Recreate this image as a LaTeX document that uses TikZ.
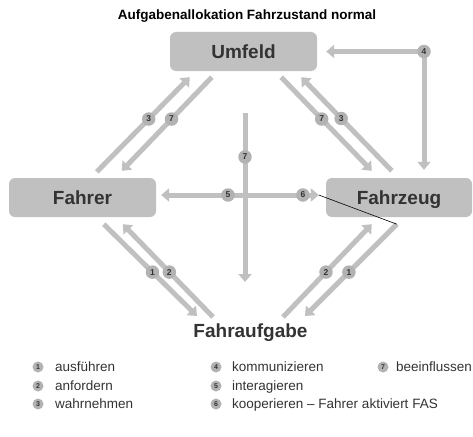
\documentclass[tikz,border=0pt]{standalone}
\usepackage{fontspec}
\setmainfont{Liberation Sans}
\usetikzlibrary{arrows.meta,calc}
\definecolor{linegray}{HTML}{C0C0C0}
\definecolor{dotgray}{HTML}{B2B2B2}
\definecolor{txtdark}{HTML}{333333}

\begin{document}
\begin{tikzpicture}[x=1pt,y=-1pt,
  >={Triangle[length=8pt,width=13pt]},
  box/.style={fill=linegray, rounded corners=6pt, minimum width=147pt,
    minimum height=39pt, inner sep=0pt, text height=13.6pt, text depth=0pt,
    font=\fontsize{19}{22}\selectfont\bfseries, text=txtdark},
  flow/.style={draw=linegray, line width=5pt},
  tag/.style={circle, fill=dotgray, inner sep=0pt, minimum size=13.5pt,
    font=\fontsize{8.5}{8.5}\selectfont\bfseries, text=txtdark},
  key/.style={circle, fill=dotgray, inner sep=0pt, minimum size=11pt,
    font=\fontsize{7}{7}\selectfont\bfseries, text=txtdark},
  keytext/.style={anchor=base west, inner sep=0pt,
    font=\fontsize{13.5}{16}\selectfont, text=txtdark}
]
\useasboundingbox (0,0) rectangle (473,436);

% title
\node[anchor=base, inner sep=0pt, font=\fontsize{13.5}{15}\selectfont\bfseries]
  (title) at (247,20) {Aufgabenallokation Fahrzustand normal};

% actors
\node[box] (umfeld) at (243.5,51.5) {Umfeld};
\node[box] (fahrer) at (82.5,197.5) {Fahrer};
\node[box, minimum width=146pt] (fahrzeug) at (399,197.5) {Fahrzeug};
\node[anchor=base, inner sep=0pt, font=\fontsize{19}{22}\selectfont\bfseries,
  text=txtdark] (aufgabe) at (250.5,337) {Fahraufgabe};

% Umfeld <-> Fahrer
\draw[flow,->] ($(fahrer.north west)+(88,-6)$) -- node[tag,pos=.558]{3}
  ($(umfeld.south west)+(20,6)$);
\draw[flow,->] ($(umfeld.south west)+(42,6)$) -- node[tag,pos=.447]{7}
  ($(fahrer.north west)+(113,-7)$);

% Umfeld <-> Fahrzeug
\draw[flow,->] ($(umfeld.south east)+(-36,6)$) -- node[tag,pos=.447]{7}
  ($(fahrzeug.north west)+(46,-7)$);
\draw[flow,->] ($(fahrzeug.north west)+(66,-7)$) -- node[tag,pos=.559]{3}
  ($(umfeld.south east)+(-16,6)$);

% communication Fahrzeug <-> Umfeld
\draw[flow,<->] ($(fahrzeug.north)+(25,-8)$) |- node[tag,pos=.5]{4}
  ($(umfeld.east)+(9,0)$);

% Fahrer <-> Fahrzeug
\draw[flow,<->] ($(fahrer.east)+(5,-2.5)$) -- node[tag,pos=.424]{5}
  node[tag,pos=.899]{6} ($(fahrzeug.west)+(-7,-2.5)$) coordinate (tip6);

% influence on the driving task
\coordinate (infl) at (245,113);
\draw[flow,->] (infl) -- node[tag,pos=.26]{7} ($(aufgabe.base)+(-5.5,-55)$);

% Fahrer <-> Fahraufgabe
\draw[flow,->] ($(fahrer.south west)+(95,7)$) -- node[tag,pos=.522]{1}
  ($(aufgabe.base)+(-53.5,-21)$);
\draw[flow,->] ($(aufgabe.base)+(-37.5,-20)$) -- node[tag,pos=.484]{2}
  ($(fahrer.south west)+(114,7)$);

% Fahrzeug <-> Fahraufgabe
\draw[flow,->] ($(aufgabe.base)+(32.5,-20)$) -- node[tag,pos=.484]{2}
  ($(fahrzeug.south west)+(46,7)$);
\draw[flow,->] ($(fahrzeug.south west)+(71,7)$) coordinate (d4start) --
  node[tag,pos=.522]{1} ($(aufgabe.base)+(54.5,-21)$);

% driver activates the assistance system
\draw[black, line width=0.6pt] (tip6) -- (d4start);

% legend
\node[key] (k1) at (38,367) {1};
\node[keytext] (t1) at (55,371.8) {ausführen};
\node[key] (k2) at (38,386) {2};
\node[keytext] (t2) at (55,390.8) {anfordern};
\node[key] (k3) at (38,404) {3};
\node[keytext] (t3) at (55,408.8) {wahrnehmen};
\node[key] (k4) at (216,367) {4};
\node[keytext] (t4) at (232,371.8) {kommunizieren};
\node[key] (k5) at (216,386) {5};
\node[keytext] (t5) at (232,390.8) {interagieren};
\node[key] (k6) at (216,404) {6};
\node[keytext] (t6) at (232,408.8) {kooperieren – Fahrer aktiviert FAS};
\node[key] (k7) at (383,367) {7};
\node[keytext] (t7) at (396,371.8) {beeinflussen};
\end{tikzpicture}
\end{document}
